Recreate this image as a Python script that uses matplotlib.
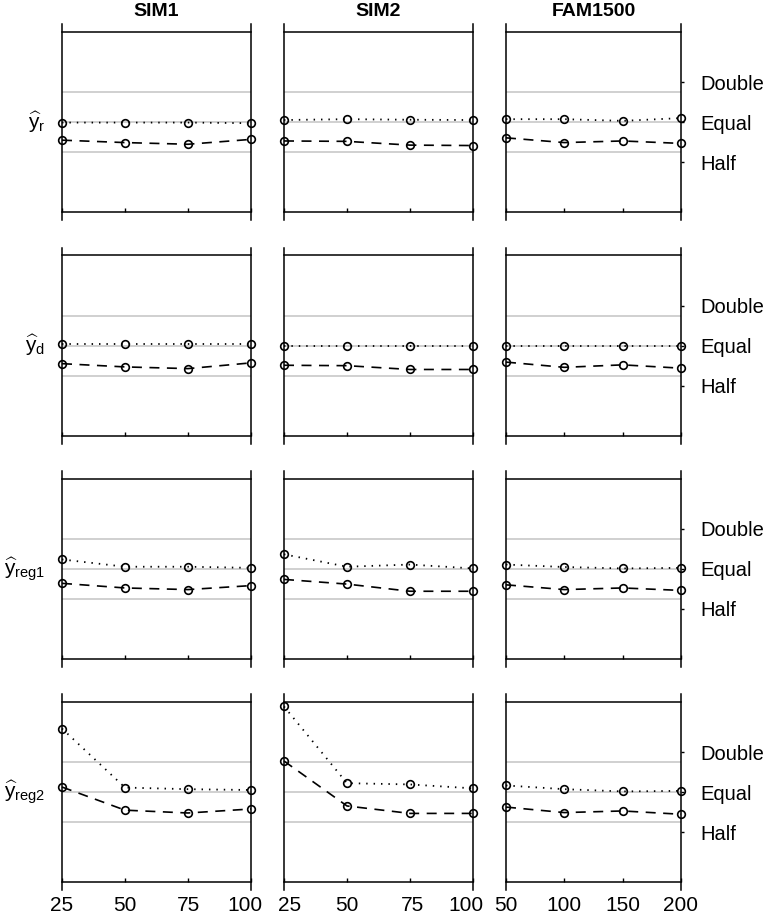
import matplotlib
matplotlib.use('Agg')
import matplotlib.pyplot as plt
from matplotlib.ticker import NullLocator, FixedLocator
from matplotlib.transforms import ScaledTranslation

plt.rcParams['font.family'] = ['Liberation Sans', 'DejaVu Sans']
plt.rcParams['mathtext.fontset'] = 'custom'
plt.rcParams['mathtext.rm'] = 'Liberation Sans'
plt.rcParams['mathtext.it'] = 'Liberation Sans'

# columns and x values
columns = ['SIM1', 'SIM2', 'FAM1500']
x_sim = [25, 50, 75, 100]
x_fam = [50, 100, 150, 200]
xs = [x_sim, x_sim, x_fam]

row_labels = [r'$\widehat{\mathrm{y}}_{\mathrm{r}}$',
              r'$\widehat{\mathrm{y}}_{\mathrm{d}}$',
              r'$\widehat{\mathrm{y}}_{\mathrm{reg1}}$',
              r'$\widehat{\mathrm{y}}_{\mathrm{reg2}}$']

# ratios (one list per column: SIM1, SIM2, FAM1500)
yr_dotted = [[0.99, 0.99, 0.99, 0.98], [1.035, 1.05, 1.04, 1.035], [1.05, 1.05, 1.02, 1.07]]
yr_dashed = [[0.73, 0.70, 0.68, 0.74], [0.72, 0.715, 0.67, 0.665], [0.76, 0.70, 0.72, 0.69]]

yd_dotted = [[1.03, 1.03, 1.03, 1.03], [1.0, 1.0, 1.0, 1.0], [1.0, 1.0, 1.0, 1.0]]
yd_dashed = [[0.73, 0.69, 0.67, 0.74], [0.71, 0.705, 0.66, 0.66], [0.75, 0.685, 0.715, 0.675]]

yreg1_dotted = [[1.18, 1.04, 1.04, 1.02], [1.29, 1.04, 1.08, 1.01], [1.08, 1.035, 1.01, 1.02]]
yreg1_dashed = [[0.78, 0.72, 0.70, 0.75], [0.835, 0.77, 0.68, 0.68], [0.76, 0.70, 0.72, 0.69]]

yreg2_dotted = [[3.0, 1.08, 1.05, 1.035], [4.4, 1.165, 1.14, 1.065], [1.12, 1.05, 1.01, 1.02]]
yreg2_dashed = [[1.09, 0.73, 0.695, 0.745], [1.71, 0.785, 0.69, 0.69], [0.77, 0.70, 0.72, 0.68]]

dotted_rows = [yr_dotted, yd_dotted, yreg1_dotted, yreg2_dotted]
dashed_rows = [yr_dashed, yd_dashed, yreg1_dashed, yreg2_dashed]

ref_levels = [2 ** 0.75, 1.0, 2 ** -0.75]   # gray guide lines
right_ticks = [2, 1, 0.5]
right_labels = ['Double', 'Equal', 'Half']

frame_hi, frame_lo = 2 ** 2.26, 2 ** -2.26
ylim = (2 ** -2.45, 2 ** 2.45)

W, H = 766, 917
fig = plt.figure(figsize=(W / 100, H / 100), dpi=100)

col_left = [62, 284, 506]
col_width = [189, 189, 175]
row_center = [122, 345.5, 569, 792]
half_h = 98

# small horizontal nudges (px) of the bottom tick labels, as in the original
label_shift = [[0, 0, 0, -6], [6, 0, 3, -7], [0, 0, 0, 0]]

for r in range(4):
    for c in range(3):
        top_px = row_center[r] - half_h
        ax = fig.add_axes([col_left[c] / W, 1 - (top_px + 2 * half_h) / H,
                           col_width[c] / W, 2 * half_h / H])
        ax.set_yscale('log', base=2)
        ax.set_ylim(*ylim)
        ax.set_xlim(xs[c][0], xs[c][-1])

        for lv in ref_levels:
            ax.axhline(lv, color='#c4c4c4', lw=1.1, zorder=1)

        ax.plot(xs[c], dotted_rows[r][c], color='black', lw=1.3,
                linestyle=(0, (0.8, 3.3)), marker='o', ms=5.5, mfc='none',
                mec='black', mew=1.2, clip_on=False, zorder=3)
        ax.plot(xs[c], dashed_rows[r][c], color='black', lw=1.2,
                linestyle=(0, (6, 4.5)), marker='o', ms=5.5, mfc='none',
                mec='black', mew=1.2, clip_on=False, zorder=3)

        for s in ax.spines.values():
            s.set_linewidth(1.1)
            s.set_color('black')
        ax.spines['top'].set_position(('data', frame_hi))
        ax.spines['bottom'].set_position(('data', frame_lo))

        ax.xaxis.set_major_locator(FixedLocator(xs[c]))
        ax.tick_params(axis='x', direction='in', length=3, width=1.0,
                       labelsize=15, pad=10)
        if r < 3:
            ax.tick_params(axis='x', labelbottom=False)
        else:
            fig.canvas.draw()
            for lab, dx in zip(ax.get_xticklabels(), label_shift[c]):
                lab.set_transform(lab.get_transform() +
                                  ScaledTranslation(dx / 100, 0, fig.dpi_scale_trans))

        ax.yaxis.set_minor_locator(NullLocator())
        if c == 2:
            ax.yaxis.tick_right()
            ax.set_yticks(right_ticks)
            ax.set_yticklabels(right_labels)
            ax.tick_params(axis='y', direction='out', length=2, width=1.0,
                           labelsize=14.5, pad=12)
        else:
            ax.set_yticks([])

        if r == 0:
            fig.text((col_left[c] + col_width[c] / 2) / W, 1 - 12 / H,
                     columns[c], ha='center', va='center', fontsize=14,
                     fontweight='bold')
        if c == 0:
            fig.text(45 / W, 1 - row_center[r] / H, row_labels[r],
                     ha='right', va='center', fontsize=15)

fig.savefig('out.png', dpi=100)
plt.close()
